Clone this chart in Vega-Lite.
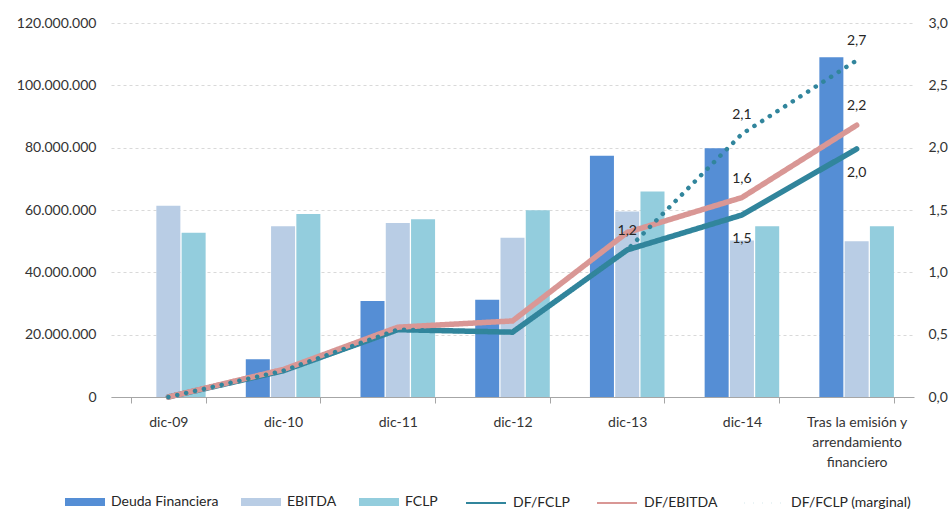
{
  "$schema": "https://vega.github.io/schema/vega-lite/v6.json",
  "width": 803,
  "height": 374,
  "autosize": "none",
  "padding": {"left": 111, "top": 23, "right": 35, "bottom": 115},
  "background": "white",
  "datasets": {
    "barras": [
      {"periodo": "dic-09", "serie": "Deuda Financiera", "valor": 0},
      {"periodo": "dic-09", "serie": "EBITDA", "valor": 61400000},
      {"periodo": "dic-09", "serie": "FCLP", "valor": 52700000},
      {"periodo": "dic-10", "serie": "Deuda Financiera", "valor": 12100000},
      {"periodo": "dic-10", "serie": "EBITDA", "valor": 54800000},
      {"periodo": "dic-10", "serie": "FCLP", "valor": 58700000},
      {"periodo": "dic-11", "serie": "Deuda Financiera", "valor": 30800000},
      {"periodo": "dic-11", "serie": "EBITDA", "valor": 55800000},
      {"periodo": "dic-11", "serie": "FCLP", "valor": 57000000},
      {"periodo": "dic-12", "serie": "Deuda Financiera", "valor": 31200000},
      {"periodo": "dic-12", "serie": "EBITDA", "valor": 51100000},
      {"periodo": "dic-12", "serie": "FCLP", "valor": 59900000},
      {"periodo": "dic-13", "serie": "Deuda Financiera", "valor": 77400000},
      {"periodo": "dic-13", "serie": "EBITDA", "valor": 59500000},
      {"periodo": "dic-13", "serie": "FCLP", "valor": 65900000},
      {"periodo": "dic-14", "serie": "Deuda Financiera", "valor": 79800000},
      {"periodo": "dic-14", "serie": "EBITDA", "valor": 50200000},
      {"periodo": "dic-14", "serie": "FCLP", "valor": 54800000},
      {"periodo": "Tras la emisión y arrendamiento financiero", "serie": "Deuda Financiera", "valor": 109000000},
      {"periodo": "Tras la emisión y arrendamiento financiero", "serie": "EBITDA", "valor": 50000000},
      {"periodo": "Tras la emisión y arrendamiento financiero", "serie": "FCLP", "valor": 54800000}
    ],
    "ratios": [
      {"periodo": "dic-09", "serie": "DF/FCLP", "ratio": 0, "rotulo": false},
      {"periodo": "dic-10", "serie": "DF/FCLP", "ratio": 0.21, "rotulo": false},
      {"periodo": "dic-11", "serie": "DF/FCLP", "ratio": 0.54, "rotulo": false},
      {"periodo": "dic-12", "serie": "DF/FCLP", "ratio": 0.52, "rotulo": false},
      {"periodo": "dic-13", "serie": "DF/FCLP", "ratio": 1.18, "rotulo": false},
      {"periodo": "dic-14", "serie": "DF/FCLP", "ratio": 1.46, "rotulo": true},
      {"periodo": "Tras la emisión y arrendamiento financiero", "serie": "DF/FCLP", "ratio": 1.99, "rotulo": true},
      {"periodo": "dic-09", "serie": "DF/EBITDA", "ratio": 0, "rotulo": false},
      {"periodo": "dic-10", "serie": "DF/EBITDA", "ratio": 0.22, "rotulo": false},
      {"periodo": "dic-11", "serie": "DF/EBITDA", "ratio": 0.56, "rotulo": false},
      {"periodo": "dic-12", "serie": "DF/EBITDA", "ratio": 0.61, "rotulo": false},
      {"periodo": "dic-13", "serie": "DF/EBITDA", "ratio": 1.32, "rotulo": false},
      {"periodo": "dic-14", "serie": "DF/EBITDA", "ratio": 1.6, "rotulo": true},
      {"periodo": "Tras la emisión y arrendamiento financiero", "serie": "DF/EBITDA", "ratio": 2.18, "rotulo": true},
      {"periodo": "dic-09", "serie": "DF/FCLP (marginal)", "ratio": 0, "rotulo": false},
      {"periodo": "dic-10", "serie": "DF/FCLP (marginal)", "ratio": 0.21, "rotulo": false},
      {"periodo": "dic-11", "serie": "DF/FCLP (marginal)", "ratio": 0.54, "rotulo": false},
      {"periodo": "dic-12", "serie": "DF/FCLP (marginal)", "ratio": 0.52, "rotulo": false},
      {"periodo": "dic-13", "serie": "DF/FCLP (marginal)", "ratio": 1.18, "rotulo": true},
      {"periodo": "dic-14", "serie": "DF/FCLP (marginal)", "ratio": 2.11, "rotulo": true},
      {"periodo": "Tras la emisión y arrendamiento financiero", "serie": "DF/FCLP (marginal)", "ratio": 2.7, "rotulo": true}
    ]
  },
  "config": {
    "locale": {"number": {"decimal": ",", "thousands": ".", "grouping": [3], "currency": ["", " €"]}},
    "font": "Lato",
    "view": {"stroke": null},
    "axis": {"labelFont": "Lato", "labelFontSize": 14, "labelColor": "#333333", "titleFont": "Lato"},
    "legend": {"labelFont": "Lato", "labelFontSize": 14, "labelColor": "#262626"}
  },
  "layer": [
    {
      "data": {"name": "barras"},
      "mark": {"type": "bar"},
      "encoding": {
        "x": {
          "field": "periodo", "type": "nominal", "sort": null,
          "scale": {"paddingInner": 0.35, "paddingOuter": 0.175},
          "axis": {
            "title": null, "labelAngle": 0, "tickBand": "extent", "tickSize": 6,
            "domainColor": "#A6A6A6", "tickColor": "#A6A6A6", "labelPadding": 12,
            "labelLineHeight": 20, "labelBaseline": "top",
            "labelExpr": "datum.label == 'Tras la emisión y arrendamiento financiero' ? ['Tras la emisión y', 'arrendamiento', 'financiero'] : datum.label"
          }
        },
        "xOffset": {"field": "serie", "type": "nominal", "sort": null, "scale": {"paddingInner": 0.05}},
        "y": {
          "field": "valor", "type": "quantitative",
          "scale": {"domain": [0, 120000000], "nice": false},
          "axis": {
            "title": null, "format": ",.0f", "values": [0, 20000000, 40000000, 60000000, 80000000, 100000000, 120000000],
            "domain": false, "ticks": false, "labelPadding": 15,
            "grid": true, "gridColor": "#D9D9D9", "gridDash": [3, 3]
          }
        },
        "color": {
          "field": "serie", "type": "nominal",
          "scale": {"domain": ["Deuda Financiera", "EBITDA", "FCLP"], "range": ["#558ED5", "#B9CDE5", "#93CDDD"]},
          "legend": {
            "title": null, "orient": "none", "direction": "horizontal",
            "legendX": -46, "legendY": 459,
            "symbolType": "M-1,-0.2H1V0.2H-1Z", "symbolSize": 1600, "symbolStrokeWidth": 0,
            "labelOffset": 6, "columnPadding": 22
          }
        }
      }
    },
    {
      "data": {"name": "ratios"},
      "encoding": {
        "x": {"field": "periodo", "type": "nominal", "sort": null},
        "y": {
          "field": "ratio", "type": "quantitative",
          "scale": {"domain": [0, 3], "nice": false},
          "axis": {
            "title": null, "orient": "right", "format": ".1f", "values": [0, 0.5, 1, 1.5, 2, 2.5, 3],
            "domain": false, "ticks": false, "labelPadding": 14, "grid": false
          }
        }
      },
      "layer": [
        {
          "transform": [{"filter": "datum.serie == 'DF/FCLP'"}],
          "mark": {"type": "line", "strokeWidth": 5.5, "strokeJoin": "round", "strokeCap": "round"},
          "encoding": {
            "color": {
              "field": "serie", "type": "nominal",
              "scale": {"domain": ["DF/FCLP", "DF/EBITDA", "DF/FCLP (marginal)"], "range": ["#31859C", "#D99795", "#31859C"]},
              "legend": {
                "title": null, "orient": "none", "direction": "horizontal",
                "legendX": 354, "legendY": 459,
                "symbolType": "M-1,0H1", "symbolSize": 1600, "symbolStrokeWidth": 2,
                "labelOffset": 6, "columnPadding": 22,
                "encode": {"symbols": {"update": {"strokeDash": {"signal": "datum.value === 'DF/FCLP (marginal)' ? [1.5, 2] : [1, 0]"}}}}
              }
            },
            "strokeDash": {
              "field": "serie", "type": "nominal",
              "scale": {"domain": ["DF/FCLP", "DF/EBITDA", "DF/FCLP (marginal)"], "range": [[1, 0], [1, 0], [0.1, 9]]}
            }
          }
        },
        {
          "transform": [{"filter": "datum.serie == 'DF/EBITDA'"}],
          "mark": {"type": "line", "strokeWidth": 5.5, "strokeJoin": "round", "strokeCap": "round"},
          "encoding": {
            "color": {"field": "serie", "type": "nominal"},
            "strokeDash": {"field": "serie", "type": "nominal"}
          }
        },
        {
          "transform": [{"filter": "datum.serie == 'DF/FCLP (marginal)'"}],
          "mark": {"type": "line", "strokeWidth": 4.5, "strokeJoin": "round", "strokeCap": "round"},
          "encoding": {
            "color": {"field": "serie", "type": "nominal"},
            "strokeDash": {"field": "serie", "type": "nominal"}
          }
        },
        {
          "transform": [{"filter": "datum.rotulo && datum.serie != 'DF/FCLP'"}],
          "mark": {"type": "text", "dy": -19, "fontSize": 14, "color": "#262626", "font": "Lato"},
          "encoding": {"text": {"field": "ratio", "type": "quantitative", "format": ".1f"}}
        },
        {
          "transform": [{"filter": "datum.rotulo && datum.serie == 'DF/FCLP'"}],
          "mark": {"type": "text", "dy": 24, "fontSize": 14, "color": "#262626", "font": "Lato"},
          "encoding": {"text": {"field": "ratio", "type": "quantitative", "format": ".1f"}}
        }
      ]
    }
  ],
  "resolve": {"scale": {"y": "independent", "color": "independent", "strokeDash": "independent"}}
}
